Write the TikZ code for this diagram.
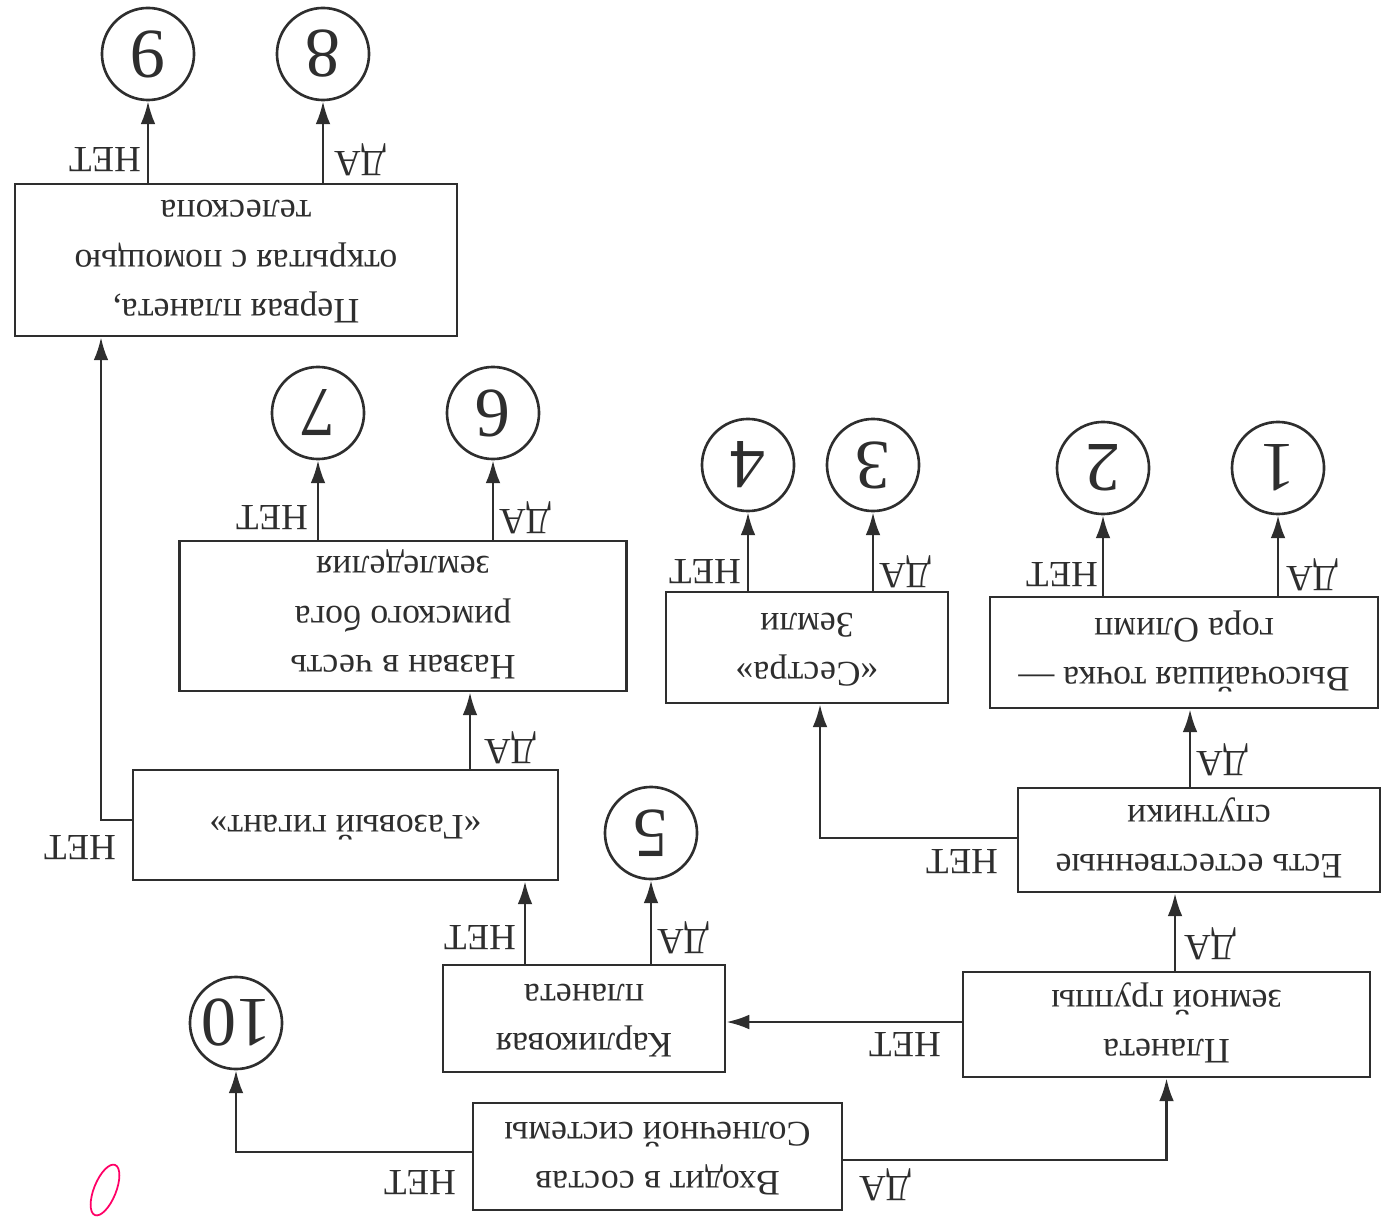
\documentclass[tikz,border=0pt]{standalone}
\usepackage{fontspec}
\setmainfont{Liberation Serif}
\usepackage{graphicx}
\usetikzlibrary{arrows.meta}
\definecolor{ink}{gray}{0.18}
\newcommand\upt[1]{\rotatebox{180}{\begin{tabular}{@{}c@{}}#1\end{tabular}}}
\begin{document}
\begin{tikzpicture}[x=0.01cm,y=-0.01cm,
 box/.style={draw=ink, line width=0.75pt, rectangle, inner sep=0pt, text=ink, font=\fontsize{10.2}{14}\selectfont},
 num/.style={draw=ink, circle, line width=0.75pt, minimum size=0.92cm, inner sep=0pt, text=ink, font=\fontsize{20}{20}\selectfont},
 lbl/.style={rotate=180, font=\fontsize{10.5}{12}\selectfont, text=ink, inner sep=0pt},
 arr/.style={draw=ink, line width=0.7pt, -{Latex[length=6.5pt,width=4.2pt]}},
]
\useasboundingbox (0,0) rectangle (1383,1225);
% boxes
\node[box, minimum width=3.69cm, minimum height=1.07cm] (b1) at (657.5,1156.5) {\upt{Входит в состав\\Солнечной системы}};
\node[box, minimum width=4.07cm, minimum height=1.05cm] (b2) at (1166.5,1024.5) {\upt{Планета\\земной группы}};
\node[box, minimum width=2.82cm, minimum height=1.07cm] (b3) at (584,1018.5) {\upt{Карликовая\\планета}};
\node[box, minimum width=3.62cm, minimum height=1.04cm] (b4) at (1199,840) {\upt{Есть естественные\\спутники}};
\node[box, minimum width=4.25cm, minimum height=1.10cm] (b5) at (345.5,825) {\upt{«Газовый гигант»}};
\node[box, minimum width=4.47cm, minimum height=1.50cm] (b6) at (403,616) {\upt{Назван в честь\\римского бога\\земледелия}};
\node[box, minimum width=2.82cm, minimum height=1.11cm] (b7) at (807,647.5) {\upt{«Сестра»\\Земли}};
\node[box, minimum width=3.88cm, minimum height=1.11cm] (b8) at (1184,652.5) {\upt{Высочайшая точка —\\гора Олимп}};
\node[box, minimum width=4.42cm, minimum height=1.52cm] (b9) at (236,260) {\upt{Первая планета,\\открытая с помощью\\телескопа}};
% circles
\node[num] (c9) at (148,54) {\rotatebox{180}{9}};
\node[num] (c8) at (323,54) {\rotatebox{180}{8}};
\node[num] (c7) at (318,413) {\rotatebox{180}{7}};
\node[num] (c6) at (493,413) {\rotatebox{180}{6}};
\node[num] (c4) at (748,465) {\rotatebox{180}{4}};
\node[num] (c3) at (873,465) {\rotatebox{180}{3}};
\node[num] (c2) at (1103,468) {\rotatebox{180}{2}};
\node[num] (c1) at (1278,468) {\rotatebox{180}{1}};
\node[num] (c5) at (651,833) {\rotatebox{180}{5}};
\node[num] (c10) at (236,1023) {\rotatebox{180}{10}};
% helper coordinates
\coordinate (y1n) at (0,1152);
\coordinate (y1d) at (0,1160);
\coordinate (y2n) at (0,1022);
\coordinate (y4n) at (0,838);
\coordinate (y5n) at (0,820);
\coordinate (k4) at (1175,0);
\coordinate (k8) at (1190,0);
\coordinate (k7) at (820,0);
\coordinate (k5) at (525,0);
\coordinate (k6) at (470,0);
\coordinate (k9) at (101,0);
% connectors
\draw[arr] (b1.west |- y1n) -| (c10.south);
\draw[arr] (b1.east |- y1d) -| (b2.south);
\draw[arr] (b2.west |- y2n) -- (b3.east |- y2n);
\draw[arr] (k4 |- b2.north) -- (k4 |- b4.south);
\draw[arr] (b4.west |- y4n) -| (k7 |- b7.south);
\draw[arr] (k8 |- b4.north) -- (k8 |- b8.south);
\draw[arr] (c2 |- b8.north) -- (c2.south);
\draw[arr] (c1 |- b8.north) -- (c1.south);
\draw[arr] (c4 |- b7.north) -- (c4.south);
\draw[arr] (c3 |- b7.north) -- (c3.south);
\draw[arr] (k5 |- b3.north) -- (k5 |- b5.south);
\draw[arr] (c5 |- b3.north) -- (c5.south);
\draw[arr] (k6 |- b5.north) -- (k6 |- b6.south);
\draw[arr] (b5.west |- y5n) -| (k9 |- b9.south);
\draw[arr] (c7 |- b6.north) -- (c7.south);
\draw[arr] (c6 |- b6.north) -- (c6.south);
\draw[arr] (c9 |- b9.north) -- (c9.south);
\draw[arr] (c8 |- b9.north) -- (c8.south);
% labels
\node[lbl] (l1) at (420,1183) {НЕТ};
\node[lbl] (l2) at (885,1185) {ДА};
\node[lbl] (l3) at (905,1045) {НЕТ};
\node[lbl] (l4) at (1210,944) {ДА};
\node[lbl] (l5) at (962,862) {НЕТ};
\node[lbl] (l6) at (1222,760) {ДА};
\node[lbl] (l7) at (1062,575) {НЕТ};
\node[lbl] (l8) at (1312,575) {ДА};
\node[lbl] (l9) at (705,572) {НЕТ};
\node[lbl] (l10) at (905,572) {ДА};
\node[lbl] (l11) at (480,938) {НЕТ};
\node[lbl] (l12) at (683,938) {ДА};
\node[lbl] (l13) at (510,748) {ДА};
\node[lbl] (l14) at (80,848) {НЕТ};
\node[lbl] (l15) at (272,518) {НЕТ};
\node[lbl] (l16) at (525,518) {ДА};
\node[lbl] (l17) at (105,160) {НЕТ};
\node[lbl] (l18) at (360,160) {ДА};
% handwritten mark
\draw[red!60!magenta, line width=0.5pt, rotate around={-22:(105,1190)}] (105,1190) ellipse [x radius=0.11cm, y radius=0.27cm];
\end{tikzpicture}
\end{document}
